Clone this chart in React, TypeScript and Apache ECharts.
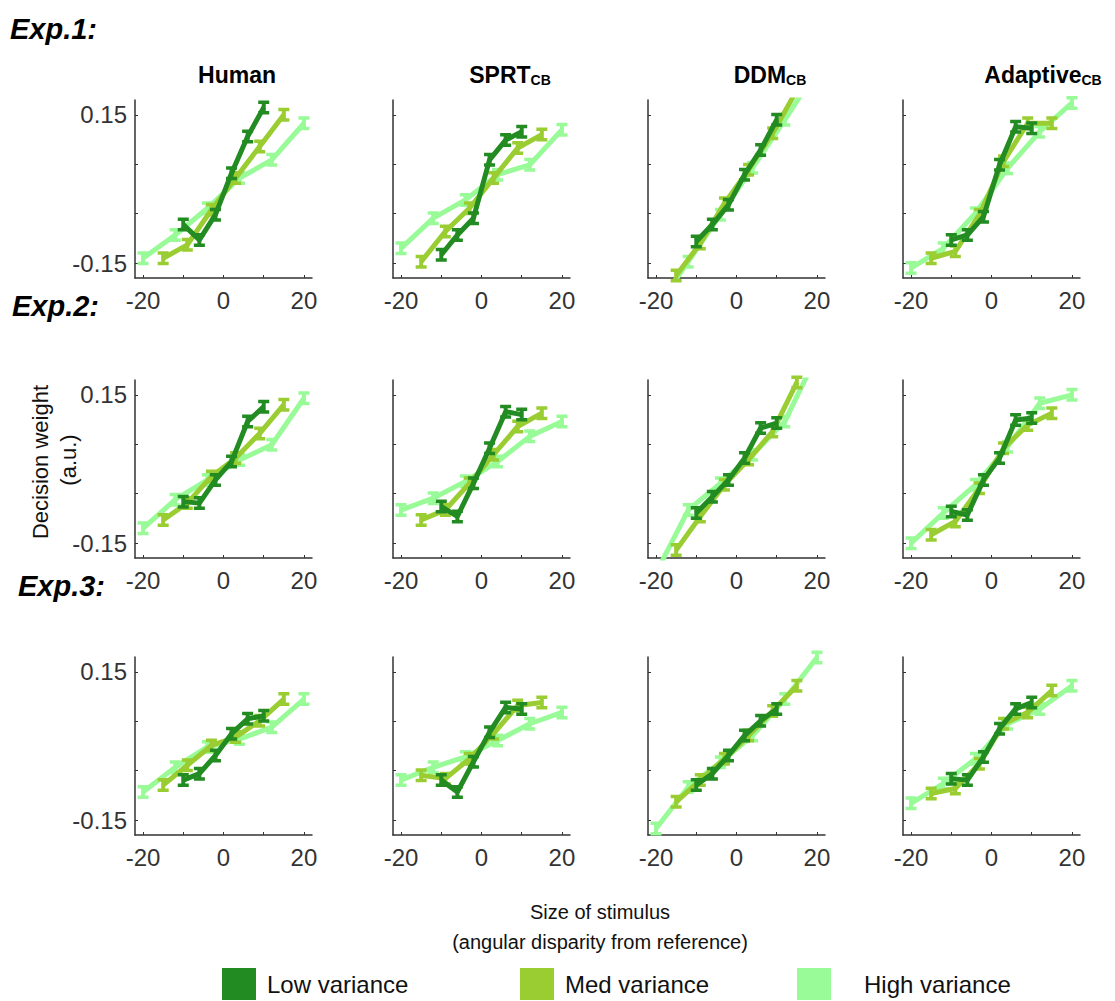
import React, { useEffect, useRef } from "react";
import * as echarts from "echarts";

// x positions of stimulus bins for each variance condition
const X_LOW = [-10, -6, -2, 2, 6, 10];
const X_MED = [-15, -9, -3, 3, 9, 15];
const X_HIGH = [-20, -12, -4, 4, 12, 20];

// Exp.1
const E1_HUMAN_LOW = [-0.072, -0.103, -0.052, 0.032, 0.106, 0.165];
const E1_HUMAN_MED = [-0.14, -0.113, -0.042, 0.022, 0.086, 0.15];
const E1_HUMAN_HIGH = [-0.14, -0.093, -0.039, 0.022, 0.059, 0.133];
const E1_SPRT_LOW = [-0.133, -0.093, -0.059, 0.059, 0.099, 0.116];
const E1_SPRT_MED = [-0.147, -0.086, -0.039, 0.022, 0.083, 0.11];
const E1_SPRT_HIGH = [-0.12, -0.059, -0.022, 0.029, 0.049, 0.12];
const E1_DDM_LOW = [-0.106, -0.072, -0.032, 0.029, 0.079, 0.14];
const E1_DDM_MED = [-0.175, -0.11, -0.029, 0.039, 0.113, 0.2];
const E1_DDM_HIGH = [-0.24, -0.147, -0.052, 0.043, 0.14, 0.24];
const E1_ADAPT_LOW = [-0.103, -0.093, -0.056, 0.049, 0.126, 0.123];
const E1_ADAPT_MED = [-0.14, -0.126, -0.052, 0.056, 0.133, 0.133];
const E1_ADAPT_HIGH = [-0.16, -0.12, -0.049, 0.042, 0.116, 0.174];

// Exp.2
const E2_HUMAN_LOW = [-0.066, -0.069, -0.022, 0.015, 0.096, 0.126];
const E2_HUMAN_MED = [-0.103, -0.069, -0.015, 0.022, 0.072, 0.13];
const E2_HUMAN_HIGH = [-0.12, -0.062, -0.022, 0.018, 0.049, 0.143];
const E2_SPRT_LOW = [-0.076, -0.096, -0.029, 0.042, 0.116, 0.11];
const E2_SPRT_MED = [-0.103, -0.083, -0.029, 0.029, 0.086, 0.113];
const E2_SPRT_HIGH = [-0.083, -0.059, -0.025, 0.015, 0.066, 0.096];
const E2_DDM_LOW = [-0.089, -0.056, -0.022, 0.022, 0.083, 0.093];
const E2_DDM_MED = [-0.164, -0.096, -0.032, 0.019, 0.076, 0.175];
const E2_DDM_HIGH = [-0.21, -0.083, -0.029, 0.029, 0.096, 0.23];
const E2_ADAPT_LOW = [-0.086, -0.093, -0.022, 0.022, 0.099, 0.103];
const E2_ADAPT_MED = [-0.133, -0.106, -0.039, 0.042, 0.089, 0.113];
const E2_ADAPT_HIGH = [-0.15, -0.089, -0.032, 0.045, 0.133, 0.15];

// Exp.3
const E3_HUMAN_LOW = [-0.069, -0.056, -0.019, 0.025, 0.055, 0.061];
const E3_HUMAN_MED = [-0.079, -0.039, 0.001, 0.018, 0.051, 0.095];
const E3_HUMAN_HIGH = [-0.093, -0.043, -0.002, 0.014, 0.038, 0.095];
const E3_SPRT_LOW = [-0.069, -0.093, -0.032, 0.028, 0.078, 0.075];
const E3_SPRT_MED = [-0.059, -0.066, -0.026, 0.025, 0.082, 0.088];
const E3_SPRT_HIGH = [-0.069, -0.043, -0.022, 0.011, 0.045, 0.068];
const E3_DDM_LOW = [-0.079, -0.056, -0.019, 0.021, 0.051, 0.075];
const E3_DDM_MED = [-0.113, -0.069, -0.026, 0.021, 0.071, 0.122];
const E3_DDM_HIGH = [-0.167, -0.083, -0.033, 0.021, 0.095, 0.179];
const E3_ADAPT_LOW = [-0.066, -0.069, -0.022, 0.035, 0.075, 0.088];
const E3_ADAPT_MED = [-0.096, -0.086, -0.036, 0.045, 0.068, 0.112];
const E3_ADAPT_HIGH = [-0.116, -0.076, -0.026, 0.045, 0.075, 0.122];

const PANELS = [
  [E1_HUMAN_LOW, E1_HUMAN_MED, E1_HUMAN_HIGH],
  [E1_SPRT_LOW, E1_SPRT_MED, E1_SPRT_HIGH],
  [E1_DDM_LOW, E1_DDM_MED, E1_DDM_HIGH],
  [E1_ADAPT_LOW, E1_ADAPT_MED, E1_ADAPT_HIGH],
  [E2_HUMAN_LOW, E2_HUMAN_MED, E2_HUMAN_HIGH],
  [E2_SPRT_LOW, E2_SPRT_MED, E2_SPRT_HIGH],
  [E2_DDM_LOW, E2_DDM_MED, E2_DDM_HIGH],
  [E2_ADAPT_LOW, E2_ADAPT_MED, E2_ADAPT_HIGH],
  [E3_HUMAN_LOW, E3_HUMAN_MED, E3_HUMAN_HIGH],
  [E3_SPRT_LOW, E3_SPRT_MED, E3_SPRT_HIGH],
  [E3_DDM_LOW, E3_DDM_MED, E3_DDM_HIGH],
  [E3_ADAPT_LOW, E3_ADAPT_MED, E3_ADAPT_HIGH],
];

const SERIES_NAMES = ["Low variance", "Med variance", "High variance"];
const SERIES_X = [X_LOW, X_MED, X_HIGH];
const COLORS = ["#228B22", "#9ACD32", "#98FB98"];

const Y_TICKS = [-0.15, -0.05, 0.05, 0.15];
const Y_LABELS = [-0.15, 0.15];
const X_TICKS = [-20, -10, 0, 10, 20];
const X_LABELS = [-20, 0, 20];

const EXP_LABELS = ["Exp.1:", "Exp.2:", "Exp.3:"];
const COL_TITLES = ["Human", "SPRT", "DDM", "Adaptive"];
const COL_SUBS = ["", "CB", "CB", "CB"];

const FONT = "'Liberation Sans', Arial, Helvetica, sans-serif";
const GRID_LEFT = [135, 393, 648, 903];
const GRID_TOP = [100, 380, 657];
const GRID_W = 177;
const GRID_H = 178;

const IBEAM = "path://M0,0H10V3H6.8V9H10V12H0V9H3.2V3H0Z";

export default function App() {
  const ref = useRef<HTMLDivElement>(null);
  useEffect(() => {
    if (!ref.current) return;
    const chart = echarts.init(ref.current, undefined, { renderer: "svg" });
    const grids: any[] = [];
    const xAxes: any[] = [];
    const yAxes: any[] = [];
    const series: any[] = [];
    PANELS.forEach((panel, p) => {
      const r = Math.floor(p / 4);
      const c = p % 4;
      grids.push({ left: GRID_LEFT[c], top: GRID_TOP[r], width: GRID_W, height: GRID_H });
      xAxes.push({
        type: "value",
        gridIndex: p,
        min: -22,
        max: 22,
        axisLine: { onZero: false, lineStyle: { color: "#333", width: 1.5 } },
        axisTick: { inside: true, length: 3, customValues: X_TICKS, lineStyle: { color: "#333" } },
        axisLabel: { customValues: X_LABELS, fontSize: 24, color: "#333", fontFamily: FONT, margin: 10 },
        splitLine: { show: false },
      });
      yAxes.push({
        type: "value",
        gridIndex: p,
        min: -0.18,
        max: 0.18,
        axisLine: { show: true, onZero: false, lineStyle: { color: "#333", width: 1.5 } },
        axisTick: { show: true, inside: true, length: 3, customValues: Y_TICKS, lineStyle: { color: "#333" } },
        axisLabel: {
          show: c === 0,
          customValues: Y_LABELS,
          fontSize: 24,
          color: "#333",
          fontFamily: FONT,
          margin: 8,
        },
        splitLine: { show: false },
      });
      [2, 1, 0].forEach((k) => {
        series.push({
          type: "line",
          name: SERIES_NAMES[k],
          xAxisIndex: p,
          yAxisIndex: p,
          data: SERIES_X[k].map((x, i) => [x, panel[k][i]]),
          symbol: IBEAM,
          symbolSize: [11, 14],
          showSymbol: true,
          clip: true,
          lineStyle: { width: 5, color: COLORS[k] },
          itemStyle: { color: COLORS[k] },
          z: 3 - k,
        });
      });
    });

    const graphic: any[] = [];
    EXP_LABELS.forEach((t, i) => {
      graphic.push({
        type: "text",
        left: [10, 12, 18][i],
        top: [14, 291, 571][i],
        style: { text: t, font: `italic bold 29px ${FONT}`, fill: "#000" },
      });
    });
    const titleCenters = [237, 510, 770, 1043];
    COL_TITLES.forEach((t, i) => {
      graphic.push({
        type: "text",
        x: titleCenters[i],
        y: 75,
        style: {
          text: COL_SUBS[i] ? `{a|${t}}{b|${COL_SUBS[i]}}` : `{a|${t}}`,
          align: "center",
          verticalAlign: "middle",
          rich: {
            a: { font: `bold 23px ${FONT}`, fill: "#000" },
            b: { font: `bold 14px ${FONT}`, fill: "#000", padding: [10, 0, 0, 0] },
          },
        },
      });
    });
    graphic.push({
      type: "text",
      x: 40,
      y: 462,
      rotation: Math.PI / 2,
      style: { text: "Decision weight", font: `22px ${FONT}`, fill: "#111", align: "center", verticalAlign: "middle" },
    });
    graphic.push({
      type: "text",
      x: 68,
      y: 460,
      rotation: Math.PI / 2,
      style: { text: "(a.u.)", font: `22px ${FONT}`, fill: "#111", align: "center", verticalAlign: "middle" },
    });
    graphic.push({
      type: "text",
      x: 600,
      y: 912,
      style: { text: "Size of stimulus", font: `20px ${FONT}`, fill: "#111", align: "center", verticalAlign: "middle" },
    });
    graphic.push({
      type: "text",
      x: 600,
      y: 942,
      style: {
        text: "(angular disparity from reference)",
        font: `20px ${FONT}`,
        fill: "#111",
        align: "center",
        verticalAlign: "middle",
      },
    });

    const legendLefts = [222, 520, 797];
    const legend = SERIES_NAMES.map((n, i) => ({
      data: [n],
      left: legendLefts[i],
      top: 968,
      padding: 0,
      icon: "rect",
      itemWidth: 34,
      itemHeight: 32,
      selectedMode: false,
      textStyle: { fontSize: 24, fontFamily: FONT, color: "#111", padding: [0, 0, 0, i === 2 ? 28 : 6] },
    }));

    chart.setOption({
      animation: false,
      backgroundColor: "#fff",
      grid: grids,
      xAxis: xAxes,
      yAxis: yAxes,
      series,
      legend,
      graphic,
    });
    return () => chart.dispose();
  }, []);
  return (
    <div
      ref={ref}
      style={{ position: "absolute", left: 0, top: 0, width: 1115, height: 1001 }}
    />
  );
}
